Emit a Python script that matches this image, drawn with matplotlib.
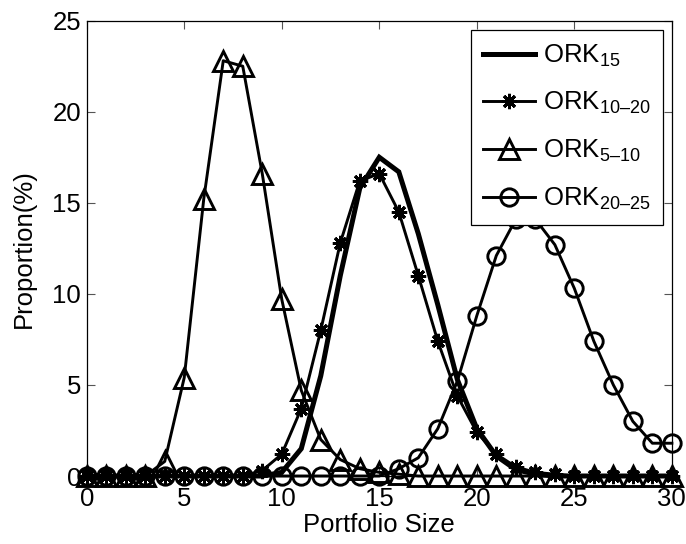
import numpy as np
import matplotlib
matplotlib.use("Agg")
import matplotlib.pyplot as plt

plt.rcParams['font.family'] = ['Liberation Sans', 'DejaVu Sans']
plt.rcParams['mathtext.fontset'] = 'custom'
plt.rcParams['mathtext.rm'] = 'Liberation Sans'
plt.rcParams['mathtext.it'] = 'Liberation Sans'

# Portfolio sizes 0..30
sizes = list(range(31))

ork_15 = [0, 0, 0, 0, 0, 0, 0, 0, 0, 0, 0.2, 1.5, 5.5, 11.0, 15.8, 17.5,
          16.7, 13.3, 9.4, 5.3, 2.6, 1.1, 0.35, 0.1, 0, 0, 0, 0, 0, 0, 0]
ork_10_20 = [0, 0, 0, 0, 0, 0, 0, 0, 0, 0.3, 1.2, 3.7, 8.0, 12.8, 16.2, 16.6,
             14.5, 11.0, 7.4, 4.4, 2.4, 1.2, 0.5, 0.2, 0.1, 0, 0, 0, 0, 0, 0]
ork_5_10 = [0, 0, 0, 0, 0.8, 5.4, 15.2, 22.8, 22.5, 16.6, 9.7, 4.7, 2.0, 0.9,
            0.4, 0.2, 0.1, 0, 0, 0, 0, 0, 0, 0, 0, 0, 0, 0, 0, 0, 0]
ork_20_25 = [0, 0, 0, 0, 0, 0, 0, 0, 0, 0, 0, 0, 0, 0, 0, 0, 0.4, 1.0, 2.6,
             5.2, 8.8, 12.1, 14.1, 14.1, 12.7, 10.3, 7.4, 5.0, 3.0, 1.8, 1.8]

labels = ['ORK$_{\\mathrm{15}}$', 'ORK$_{\\mathrm{10\u201320}}$',
          'ORK$_{\\mathrm{5\u201310}}$', 'ORK$_{\\mathrm{20\u201325}}$']

fig = plt.figure(figsize=(6.86, 5.44), dpi=100)
ax = fig.add_axes([0.1264, 0.125, 0.853, 0.837])

ax.plot(sizes, ork_15, color='black', lw=3.6, label=labels[0],
        solid_joinstyle='miter', clip_on=False)
ax.plot(sizes, ork_10_20, color='black', lw=2.1, marker=(8, 2, 0), ms=11,
        mew=2.1, label=labels[1], clip_on=False)
ax.plot(sizes, ork_5_10, color='black', lw=2.1, marker='^', ms=14,
        mfc='none', mew=2.1, label=labels[2], clip_on=False)
ax.plot(sizes, ork_20_25, color='black', lw=2.1, marker='o', ms=12.5,
        mfc='none', mew=2.1, label=labels[3], clip_on=False)

ax.set_xlim(0, 30)
ax.set_ylim(0, 25)
ax.set_xticks(range(0, 31, 5))
ax.set_yticks(range(0, 26, 5))
ax.tick_params(direction='in', top=True, right=True, labelsize=18.5,
               length=6, width=0.8, color='#555555')
ax.tick_params(axis='x', pad=8)
ax.tick_params(axis='y', pad=4)
for s in ax.spines.values():
    s.set_linewidth(0.9)

ax.set_xlabel('Portfolio Size', fontsize=18.5, labelpad=1)
ax.set_ylabel('Proportion(%)', fontsize=18.5, labelpad=12)

leg = ax.legend(loc='upper right', fontsize=18.5, numpoints=1,
                handlelength=2.0, handletextpad=0.3, labelspacing=0.84,
                borderpad=0.5, borderaxespad=0.35, fancybox=False,
                framealpha=1, edgecolor='black')
leg.get_frame().set_linewidth(0.9)

fig.savefig('out.png', dpi=100)
